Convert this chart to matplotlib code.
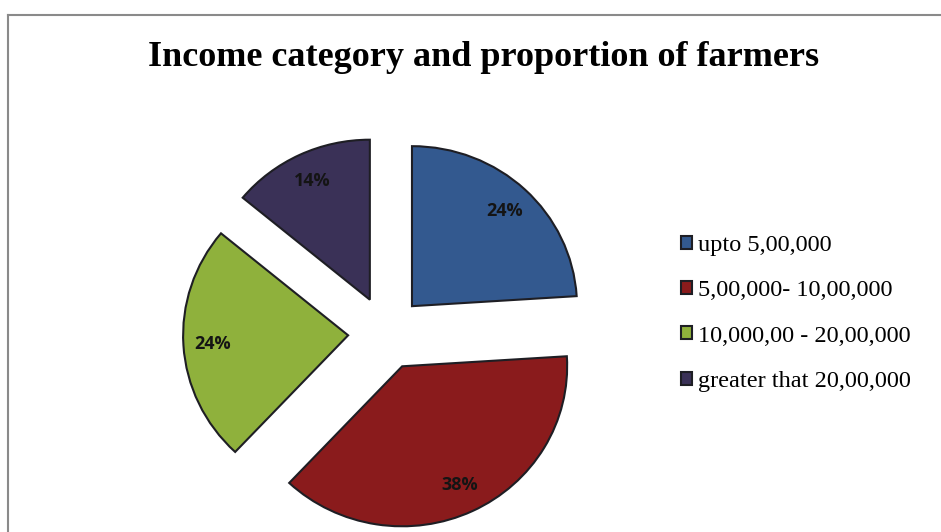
import matplotlib.pyplot as plt
from matplotlib.lines import Line2D

# income categories and share of farmers (%)
categories = ['upto 5,00,000', '5,00,000- 10,00,000', '10,000,00 - 20,00,000', 'greater that 20,00,000']
shares = [24, 38, 24, 14]
colors = ['#33598f', '#8a1b1c', '#8fb13c', '#3a3157']

W, H = 941, 532
fig = plt.figure(figsize=(W / 100, H / 100), dpi=100)
fig.patch.set_facecolor('white')

# grey frame of the chart area (top and left edges visible)
fig.add_artist(Line2D([8 / W, 1.0], [1 - 15 / H, 1 - 15 / H], color='#8a8a8a', lw=1.5))
fig.add_artist(Line2D([8 / W, 8 / W], [0, 1 - 15 / H], color='#8a8a8a', lw=1.5))

# axes placed in pixels so the pie centre sits at about (386, 333)
sx, sy = 165, 160
xr, yr = 1.6, 1.4
cx, cy = 386, 333
ax = fig.add_axes([(cx - xr * sx) / W, (H - cy - yr * sy) / H, 2 * xr * sx / W, 2 * yr * sy / H])
wedges, texts, autotexts = ax.pie(
    shares, colors=colors, startangle=90, counterclock=False,
    explode=[0.23] * len(shares), autopct='%d%%', pctdistance=0.82,
    wedgeprops=dict(edgecolor='#1e1e24', linewidth=1.5),
    textprops=dict(fontsize=13, fontweight='bold', color='#141414', family='Open Sans'))
ax.set_xlim(-xr, xr)
ax.set_ylim(-yr, yr)
ax.set_aspect('auto')
ax.axis('off')

fig.text(484 / W, 1 - 58 / H, 'Income category and proportion of farmers',
         ha='center', va='center', fontsize=26, fontweight='bold', family='Liberation Serif')

fig.legend(wedges, categories, loc='upper left', bbox_to_anchor=(681 / W, 1 - 235 / H),
           frameon=False, prop=dict(family='Liberation Serif', size=17.5),
           borderpad=0, borderaxespad=0,
           handlelength=0.45, handleheight=0.45, handletextpad=0.25, labelspacing=1.0)

fig.savefig('out.png', dpi=100, facecolor='white')
